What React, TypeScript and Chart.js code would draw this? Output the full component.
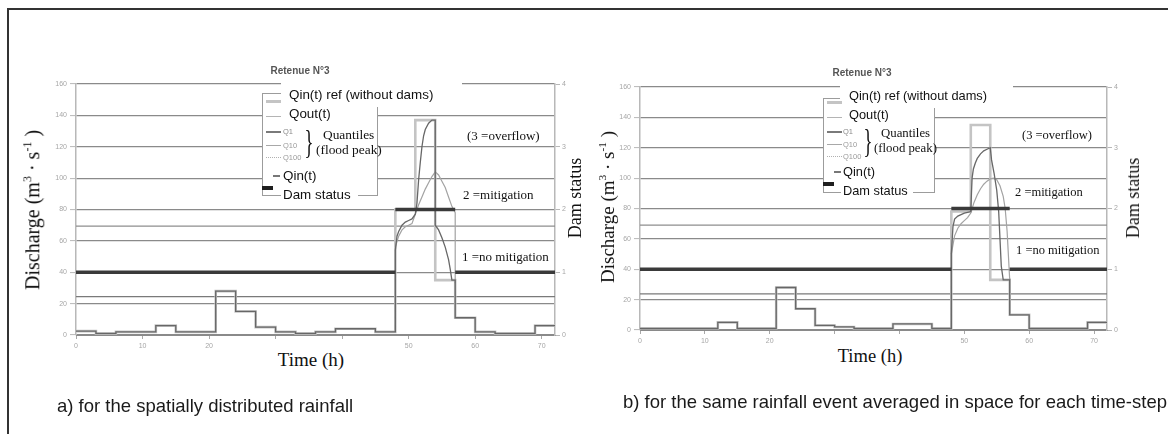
import React, { useEffect, useRef } from "react";
import { Chart, registerables } from "chart.js";

Chart.register(...registerables);

// ---------------- shared data ----------------
const blockEdges = [0, 3, 6, 9, 12, 15, 18, 21, 24, 27, 30, 33, 36, 39, 42, 45, 48, 51, 54, 57, 60, 63, 66, 69, 72];
const preEdges = [0, 3, 6, 9, 12, 15, 18, 21, 24, 27, 30, 33, 36, 39, 42, 45, 48];
const postEdges = [57, 60, 63, 66, 69, 72];
const damEdges = [0, 48, 57, 72];
const timeRange = [0, 72];
const dischargeRange = [0, 160];
const statusRange = [0, 4];

// ---------------- a) spatially distributed rainfall ----------------
const qinRefA = [2.5, 1, 2, 2, 6, 2, 2, 28, 15, 5, 2, 1, 2, 4, 4, 2, 80, 137, 35, 11, 2, 1, 1, 6];
const qinPreA = [2.5, 1, 2, 2, 6, 2, 2, 28, 15, 5, 2, 1, 2, 4, 4, 2];
const qinEventTimesA = [48, 48.25, 48.5, 48.75, 49, 49.5, 50, 50.5, 51, 51.25, 51.5, 51.75, 52, 52.25, 52.5, 53, 53.5, 54, 54, 54.5, 55, 55.5, 56, 56.25, 56.5, 57];
const qinEventA = [54, 63, 66, 68, 70, 72, 73, 74, 77, 84, 99, 110, 120, 127, 131, 135, 137, 137, 70, 67, 62, 56, 48, 42, 35, 35];
const qinPostA = [11, 2, 1, 1, 6];
const qoutTimesA = [48, 48.5, 49, 49.5, 50, 50.5, 51, 51.5, 52, 52.5, 53, 53.5, 54, 54.5, 55, 55.5, 56, 56.5, 57, 57];
const qoutA = [56, 63, 67, 69, 70, 71, 77, 83, 88, 93, 97, 101, 104, 102, 98, 94, 88, 82, 78, 33];
const quantileQ1A = 24.4;
const quantileQ10A = 69.4;
const damStatusA = [1, 2, 1];

// ---------------- b) spatially averaged rainfall ----------------
const qinRefB = [1, 1, 1, 1, 5, 1, 1, 28, 14, 3, 2, 1, 1, 4, 4, 1, 78, 135, 33, 10, 1, 1, 1, 5];
const qinPreB = [1, 1, 1, 1, 5, 1, 1, 28, 14, 3, 2, 1, 1, 4, 4, 1];
const qinEventTimesB = [48, 48.25, 48.5, 49, 49.5, 50, 50.5, 51, 51.1, 51.2, 51.4, 51.7, 52, 52.5, 53, 53.5, 54, 54.2, 54.6, 55, 55.3, 55.5, 55.7, 56, 57];
const qinEventB = [50, 68, 73, 75, 76, 77, 77.5, 78, 90, 100, 106, 110, 113, 116, 118, 119, 120, 112, 103, 92, 78, 60, 42, 33, 33];
const qinPostB = [10, 1, 1, 1, 5];
const qoutTimesB = [48, 48.5, 49, 49.5, 50, 50.5, 51, 51.5, 52, 52.5, 53, 53.5, 54, 54.5, 55, 55.5, 56, 56.3, 56.6, 57];
const qoutB = [50, 62, 67, 70, 72, 74, 77, 84, 89, 93, 96, 98, 99.5, 100, 99, 95, 88, 80, 65, 33];
const quantileQ1B = 23.8;
const quantileQ10B = 69;
const damStatusB = [1, 2, 1];

// ---------------- helpers ----------------
type Pt = { x: number; y: number | null };
const stepPoints = (edges: number[], values: number[]): Pt[] => {
  const pts: Pt[] = [];
  values.forEach((v, i) => {
    pts.push({ x: edges[i], y: v });
    pts.push({ x: edges[i + 1], y: v });
  });
  return pts;
};
const curvePoints = (times: number[], values: number[]): Pt[] => times.map((t, i) => ({ x: t, y: values[i] }));
const levelLine = (v: number): Pt[] => [
  { x: timeRange[0], y: v },
  { x: timeRange[1], y: v },
];
const damPoints = (edges: number[], values: number[]): Pt[] => {
  const pts: Pt[] = [];
  values.forEach((v, i) => {
    if (i > 0) pts.push({ x: edges[i], y: null });
    pts.push({ x: edges[i], y: v });
    pts.push({ x: edges[i + 1], y: v });
  });
  return pts;
};

type Series = {
  qinRef: number[];
  qinPre: number[];
  qinEventTimes: number[];
  qinEvent: number[];
  qinPost: number[];
  qoutTimes: number[];
  qout: number[];
  q1: number[] | number;
  q10: number;
  dam: number[];
};

const SERIF = '"Liberation Serif", "Times New Roman", serif';
const SANS = '"Liberation Sans", Arial, sans-serif';

function DischargeChart(props: {
  left: number;
  top: number;
  width: number;
  height: number;
  pad: { left: number; right: number; top: number; bottom: number };
  s: Series;
}) {
  const ref = useRef<HTMLCanvasElement>(null);
  const { s } = props;
  useEffect(() => {
    const tickFont = { size: 7, family: SANS };
    const base = { pointRadius: 0, tension: 0, fill: false, spanGaps: false, borderJoinStyle: "miter" as const };
    const chart = new Chart(ref.current!, {
      type: "line",
      data: {
        datasets: [
          { ...base, label: "Dam status", data: damPoints(damEdges, s.dam), yAxisID: "y1", borderColor: "#3a3a3a", borderWidth: 3.5 },
          {
            ...base,
            label: "Qin(t)",
            data: [
              ...stepPoints(preEdges, s.qinPre),
              ...curvePoints(s.qinEventTimes, s.qinEvent),
              ...stepPoints(postEdges, s.qinPost),
            ],
            yAxisID: "y",
            borderColor: "#676767",
            borderWidth: 1.3,
          },
          { ...base, label: "Qout(t)", data: curvePoints(s.qoutTimes, s.qout), yAxisID: "y", borderColor: "#a3a3a3", borderWidth: 1.2 },
          { ...base, label: "Qin(t) ref (without dams)", data: stepPoints(blockEdges, s.qinRef), yAxisID: "y", borderColor: "#c4c4c4", borderWidth: 2.6 },
          { ...base, label: "Q1", data: levelLine(s.q1 as number), yAxisID: "y", borderColor: "#7a7a7a", borderWidth: 1.2 },
          { ...base, label: "Q10", data: levelLine(s.q10), yAxisID: "y", borderColor: "#8e8e8e", borderWidth: 1.2 },
        ] as any,
      },
      options: {
        animation: false,
        responsive: false,
        events: [],
        layout: { padding: props.pad },
        plugins: { legend: { display: false }, tooltip: { enabled: false }, title: { display: false } },
        scales: {
          x: {
            type: "linear",
            min: timeRange[0],
            max: timeRange[1],
            afterFit: (sc: any) => {
              sc.height = 20;
            },
            ticks: { stepSize: 10, includeBounds: false, font: tickFont, color: "#a6a6a6", padding: 3, maxRotation: 0, autoSkip: false },
            grid: { drawOnChartArea: false, drawTicks: true, tickLength: 4, color: "#a8a8a8" },
            border: { display: true, color: "#8a8a8a", width: 1 },
          },
          y: {
            position: "left",
            min: dischargeRange[0],
            max: dischargeRange[1],
            afterFit: (sc: any) => {
              sc.width = 30;
            },
            ticks: { stepSize: 20, font: tickFont, color: "#a6a6a6", padding: 3 },
            grid: { color: "#8a8a8a", lineWidth: 1.2, tickLength: 6, tickColor: "#b8b8b8", tickWidth: 1 },
            border: { display: true, color: "#b8b8b8", width: 1.5 },
          },
          y1: {
            position: "right",
            min: statusRange[0],
            max: statusRange[1],
            afterFit: (sc: any) => {
              sc.width = 20;
            },
            ticks: { stepSize: 1, font: tickFont, color: "#a6a6a6", padding: 2 },
            grid: { drawOnChartArea: false, drawTicks: true, tickLength: 5, color: "#b8b8b8" },
            border: { display: true, color: "#b8b8b8", width: 1.5 },
          },
        },
      } as any,
    });
    return () => chart.destroy();
  }, []);
  return (
    <canvas
      ref={ref}
      width={props.width}
      height={props.height}
      style={{ position: "absolute", left: props.left, top: props.top, width: props.width, height: props.height }}
    />
  );
}

function Txt(p: {
  x: number;
  cy: number;
  size: number;
  serif?: boolean;
  color?: string;
  bold?: boolean;
  bg?: string;
  center?: boolean;
  children: React.ReactNode;
}) {
  return (
    <div
      style={{
        position: "absolute",
        left: p.x,
        top: p.cy - p.size * 0.6,
        height: p.size * 1.2,
        lineHeight: `${p.size * 1.2}px`,
        fontSize: p.size,
        fontFamily: p.serif ? SERIF : SANS,
        fontWeight: p.bold ? 700 : 400,
        color: p.color ?? "#111",
        background: p.bg,
        whiteSpace: "nowrap",
        transform: p.center ? "translateX(-50%)" : undefined,
      }}
    >
      {p.children}
    </div>
  );
}

function VTxt(p: { cx: number; cy: number; size: number; children: React.ReactNode }) {
  return (
    <div
      style={{
        position: "absolute",
        left: p.cx,
        top: p.cy,
        transform: "translate(-50%, -50%) rotate(-90deg)",
        fontSize: p.size,
        fontFamily: SERIF,
        whiteSpace: "nowrap",
        lineHeight: 1,
        color: "#111",
      }}
    >
      {p.children}
    </div>
  );
}

function Box(p: { l: number; t: number; w: number; h: number; bg?: string; border?: string; style?: React.CSSProperties }) {
  return (
    <div
      style={{
        position: "absolute",
        left: p.l,
        top: p.t,
        width: p.w,
        height: p.h,
        background: p.bg,
        border: p.border,
        boxSizing: "border-box",
        ...p.style,
      }}
    />
  );
}

function Legend(p: {
  boxL: number;
  boxT: number;
  boxW: number;
  boxH: number;
  patchL: number;
  patchT: number;
  patchW: number;
  patchH: number;
  rows: number[]; // ref, qout, q1, q10, q100, qin, dam
  textX: number;
  smallX: number;
  font: number;
  braceX: number;
  braceCy: number;
  quantX: number;
  quantCy: number;
  floodX: number;
  floodCy: number;
  damPatchW: number;
}) {
  const sL = p.boxL + 4;
  const sW = 15;
  return (
    <>
      <Box l={p.boxL} t={p.boxT} w={p.boxW} h={p.boxH} bg="#fff" border="1px solid #9c9c9c" />
      <Box l={p.patchL} t={p.patchT} w={p.patchW} h={p.patchH} bg="#fff" />
      <Box l={p.smallX - 2} t={p.rows[6] - 8} w={p.damPatchW} h={16} bg="#fff" />
      {/* line samples */}
      <Box l={sL} t={p.rows[0] + 5} w={sW} h={3} bg="#c4c4c4" />
      <Box l={sL} t={p.rows[1] + 2} w={sW} h={1} bg="#b4b4b4" />
      <Box l={sL} t={p.rows[2]} w={sW} h={1.5} bg="#7a7a7a" />
      <Box l={sL} t={p.rows[3]} w={sW} h={1} bg="#a8a8a8" />
      <Box l={sL} t={p.rows[4]} w={sW} h={0} style={{ borderTop: "1px dotted #b0b0b0" }} />
      <Box l={p.boxL + 11} t={p.rows[5] - 1} w={7} h={1.5} bg="#777" />
      <Box l={p.boxL} t={p.rows[6] - 9} w={11} h={4} bg="#1e1e1e" />
      {/* labels */}
      <Txt x={p.textX} cy={p.rows[0]} size={p.font}>Qin(t) ref (without dams)</Txt>
      <Txt x={p.textX} cy={p.rows[1]} size={p.font}>Qout(t)</Txt>
      <Txt x={p.smallX} cy={p.rows[2]} size={7.5} color="#8a8a8a">Q1</Txt>
      <Txt x={p.smallX} cy={p.rows[3]} size={7.5} color="#9a9a9a">Q10</Txt>
      <Txt x={p.smallX} cy={p.rows[4]} size={7.5} color="#9a9a9a">Q100</Txt>
      <div
        style={{
          position: "absolute",
          left: p.braceX,
          top: p.braceCy,
          transform: "translate(-50%, -50%) scale(0.55, 1)",
          fontFamily: SERIF,
          fontSize: 34,
          lineHeight: 1,
          color: "#111",
        }}
      >
        {"}"}
      </div>
      <Txt x={p.quantX} cy={p.quantCy} size={p.font} serif>Quantiles</Txt>
      <Txt x={p.floodX} cy={p.floodCy} size={p.font} serif>(flood peak)</Txt>
      <Txt x={p.smallX} cy={p.rows[5]} size={p.font}>Qin(t)</Txt>
      <Txt x={p.smallX} cy={p.rows[6]} size={p.font}>Dam status</Txt>
    </>
  );
}

const seriesA: Series = {
  qinRef: qinRefA,
  qinPre: qinPreA,
  qinEventTimes: qinEventTimesA,
  qinEvent: qinEventA,
  qinPost: qinPostA,
  qoutTimes: qoutTimesA,
  qout: qoutA,
  q1: quantileQ1A,
  q10: quantileQ10A,
  dam: damStatusA,
};
const seriesB: Series = {
  qinRef: qinRefB,
  qinPre: qinPreB,
  qinEventTimes: qinEventTimesB,
  qinEvent: qinEventB,
  qinPost: qinPostB,
  qoutTimes: qoutTimesB,
  qout: qoutB,
  q1: quantileQ1B,
  q10: quantileQ10B,
  dam: damStatusB,
};

const dischargeLabel = (
  <>
    Discharge (m<sup style={{ fontSize: "0.6em", verticalAlign: "0.7em" }}>3</sup> · s
    <sup style={{ fontSize: "0.6em", verticalAlign: "0.7em" }}>-1</sup> )
  </>
);

export default function App() {
  return (
    <div
      style={{
        position: "fixed",
        left: 0,
        top: 0,
        width: 1168,
        height: 434,
        background: "#fff",
        overflow: "hidden",
      }}
    >
      {/* outer frame */}
      <Box l={7} t={8} w={1170} h={440} style={{ borderTop: "2px solid #333", borderLeft: "2px solid #333" }} />

      {/* chart a */}
      <DischargeChart left={0} top={0} width={600} height={434} pad={{ left: 46, right: 25, top: 84, bottom: 79 }} s={seriesA} />
      {/* chart b */}
      <DischargeChart left={590} top={0} width={578} height={434} pad={{ left: 20, right: 41, top: 87, bottom: 84 }} s={seriesB} />

      {/* titles */}
      <Txt x={300} cy={71} size={10} bold color="#555" center>Retenue N°3</Txt>
      <Txt x={862} cy={73} size={10} bold color="#555" center>Retenue N°3</Txt>

      {/* axis titles a */}
      <VTxt cx={32} cy={210} size={20}>{dischargeLabel}</VTxt>
      <VTxt cx={575} cy={198} size={18}>Dam status</VTxt>
      <Box l={268} t={339} w={84} h={33} bg="#fff" />
      <Txt x={311} cy={360} size={19} serif center>Time (h)</Txt>

      {/* axis titles b */}
      <VTxt cx={607} cy={207} size={19}>{dischargeLabel}</VTxt>
      <VTxt cx={1133} cy={198} size={18}>Dam status</VTxt>
      <Box l={828} t={337} w={80} h={33} bg="#fff" />
      <Txt x={870} cy={356} size={18.5} serif center>Time (h)</Txt>

      {/* status annotations a */}
      <Txt x={467} cy={136} size={13} serif>(3 =overflow)</Txt>
      <Txt x={463} cy={195} size={13} serif>2 =mitigation</Txt>
      <Txt x={462} cy={257} size={13} serif>1 =no mitigation</Txt>

      {/* status annotations b */}
      <Txt x={1022} cy={135} size={12.5} serif>(3 =overflow)</Txt>
      <Txt x={1015} cy={192} size={12.5} serif>2 =mitigation</Txt>
      <Txt x={1016} cy={250} size={12.5} serif>1 =no mitigation</Txt>

      {/* legends */}
      <Legend
        boxL={262}
        boxT={93}
        boxW={116}
        boxH={103}
        patchL={281}
        patchT={78}
        patchW={181}
        patchH={29}
        rows={[95, 114, 131, 145, 157, 176, 195]}
        textX={289}
        smallX={283}
        font={13.4}
        braceX={309}
        braceCy={142}
        quantX={323}
        quantCy={135}
        floodX={316}
        floodCy={150}
        damPatchW={77}
      />
      <Legend
        boxL={823}
        boxT={98}
        boxW={112}
        boxH={95}
        patchL={840}
        patchT={81}
        patchW={173}
        patchH={27}
        rows={[96, 115, 131, 144, 156, 172, 191]}
        textX={849}
        smallX={843}
        font={12.8}
        braceX={868}
        braceCy={141}
        quantX={881}
        quantCy={134}
        floodX={874}
        floodCy={149}
        damPatchW={72}
      />

      {/* captions */}
      <Txt x={57} cy={406} size={18.5} color="#1a1a1a">a) for the spatially distributed rainfall</Txt>
      <Txt x={623} cy={402} size={18.5} color="#1a1a1a">b) for the same rainfall event averaged in space for each time-step</Txt>
    </div>
  );
}
